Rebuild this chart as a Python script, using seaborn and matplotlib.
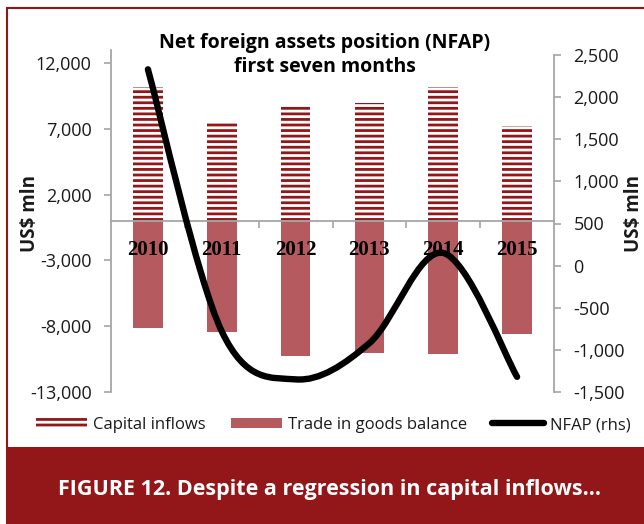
import numpy as np
import pandas as pd
import matplotlib
matplotlib.use("Agg")
import matplotlib.pyplot as plt
from matplotlib.path import Path
from matplotlib.patches import PathPatch, Patch, Rectangle
from matplotlib.lines import Line2D
from matplotlib.ticker import FixedLocator, FuncFormatter
import seaborn as sns

# data (US$ mln, first seven months)
years = ["2010", "2011", "2012", "2013", "2014", "2015"]
capital_inflows = [10200, 7600, 8850, 8950, 10150, 7250]
trade_balance = [-8100, -8450, -10250, -10000, -10100, -8600]
nfap = [2330, -780, -1350, -920, 150, -1320]

left_ticks = [-13000, -8000, -3000, 2000, 7000, 12000]
right_ticks = [-1500, -1000, -500, 0, 500, 1000, 1500, 2000, 2500]

DARK = "#931619"
TRADE = "#b55b5f"
GREY = "#a6a6a6"
TXT = "#1a1a1a"

sns.set_style("white")
plt.rcParams['font.family'] = ['Open Sans', 'DejaVu Sans']
plt.rcParams['hatch.linewidth'] = 2.0

W, H = 644, 524
fig = plt.figure(figsize=(W / 100, H / 100), dpi=100)


def box(l, t, r, b):
    return [l / W, 1 - b / H, (r - l) / W, (b - t) / H]


ax = fig.add_axes(box(111, 50, 554, 392))
ax2 = fig.add_axes(box(111, 55, 554, 392), sharex=ax)

df = pd.DataFrame({"year": years, "capital": capital_inflows,
                   "trade": trade_balance, "nfap": nfap})

sns.barplot(data=df, x="year", y="capital", ax=ax, color="white", width=0.4,
            errorbar=None, saturation=1)
sns.barplot(data=df, x="year", y="trade", ax=ax, color=TRADE, width=0.4,
            errorbar=None, saturation=1)
for p in ax.patches[:len(years)]:
    p.set_facecolor("white")
    p.set_edgecolor(DARK)
    p.set_hatch("---")
    p.set_linewidth(0)
for p in ax.patches[len(years):]:
    p.set_facecolor(TRADE)
    p.set_linewidth(0)

ax.set_axisbelow(False)
ax.set_ylim(-13000, 13000)
ax.yaxis.set_major_locator(FixedLocator(left_ticks))
ax.yaxis.set_major_formatter(FuncFormatter(lambda v, pos: f"{v:,.0f}"))
ax.set_xlabel("")
ax.set_ylabel("US$ mln", fontsize=13.5, fontweight="bold", color=TXT)
ax.yaxis.set_label_coords((40 - 111) / 443, (392 - 213) / 342)
for s in ["top", "right"]:
    ax.spines[s].set_visible(False)
ax.spines["left"].set_color(GREY)
ax.spines["left"].set_linewidth(1.3)
ax.spines["bottom"].set_position(("data", 0))
ax.spines["bottom"].set_color(GREY)
ax.spines["bottom"].set_linewidth(1.3)
ax.tick_params(axis="y", direction="out", length=5, width=1.2, color=GREY,
               labelsize=13, labelcolor=TXT, pad=9, left=True)
ax.xaxis.set_minor_locator(FixedLocator([0.5, 1.5, 2.5, 3.5, 4.5]))
ax.tick_params(axis="x", which="major", length=0, pad=14, labelsize=15)
ax.tick_params(axis="x", which="minor", direction="out", length=5, width=1.2,
               color=GREY, bottom=True)
for lab in ax.get_xticklabels():
    lab.set_fontfamily("Liberation Serif")
    lab.set_fontweight("bold")
    lab.set_color("black")

# NFAP on the right axis, drawn as a smoothed line through the data points
pts = np.column_stack([np.arange(len(nfap)), nfap]).astype(float)
verts = [pts[0]]
codes = [Path.MOVETO]
n = len(pts)
for i in range(n - 1):
    prev_pt = pts[max(i - 1, 0)]
    next_pt = pts[min(i + 2, n - 1)]
    verts += [pts[i] + (pts[i + 1] - prev_pt) / 6,
              pts[i + 1] - (next_pt - pts[i]) / 6,
              pts[i + 1]]
    codes += [Path.CURVE4] * 3
ax2.add_patch(PathPatch(Path(verts, codes), facecolor="none", edgecolor="black",
                        lw=4.6, capstyle="round", zorder=3))

ax2.patch.set_visible(False)
ax2.set_ylim(-1500, 2500)
ax2.yaxis.set_major_locator(FixedLocator(right_ticks))
ax2.yaxis.set_major_formatter(FuncFormatter(lambda v, pos: f"{v:,.0f}"))
ax2.yaxis.tick_right()
ax2.yaxis.set_label_position("right")
ax2.set_ylabel("US$ mln", fontsize=13.5, fontweight="bold", color=TXT)
ax2.yaxis.set_label_coords((624 - 111) / 443, (392 - 213) / 337)
for s in ["top", "left", "bottom"]:
    ax2.spines[s].set_visible(False)
ax2.spines["right"].set_color(GREY)
ax2.spines["right"].set_linewidth(1.3)
ax2.tick_params(axis="y", direction="out", length=5, width=1.2, color=GREY,
                labelsize=13, labelcolor=TXT, pad=9, right=True)
ax2.tick_params(axis="x", which="both", bottom=False, labelbottom=False)

fig.text(325 / W, 1 - 55 / H, "Net foreign assets position (NFAP)\nfirst seven months",
         ha="center", va="center", fontsize=14, fontweight="bold", linespacing=1.25,
         color="black")

handles = [Patch(facecolor="white", edgecolor=DARK, hatch="---", linewidth=0),
           Patch(facecolor=TRADE, linewidth=0),
           Line2D([], [], color="black", lw=4.6)]
labels = ["Capital inflows", "Trade in goods balance", "NFAP (rhs)"]
fig.legend(handles, labels, loc="center", bbox_to_anchor=(333 / W, 1 - 425 / H),
           ncol=3, frameon=False, prop={"size": 12},
           handlelength=3.1, handleheight=0.6, handletextpad=0.35,
           columnspacing=1.5, labelcolor=TXT)

# frame and caption banner
fig.patches.append(Rectangle((7 / W, 0), 1.0, 1 - 8 / H, transform=fig.transFigure,
                             facecolor="none", edgecolor=DARK, lw=1.5, zorder=0))
fig.patches.append(Rectangle((7 / W, 0), 1.0, (H - 447) / H, transform=fig.transFigure,
                             facecolor=DARK, edgecolor="none", zorder=0))
fig.text(329 / W, 1 - 490 / H, "FIGURE 12. Despite a regression in capital inflows...",
         ha="center", va="center", color="white", fontsize=15.5, fontweight="bold")

fig.savefig("out.png", dpi=100)
